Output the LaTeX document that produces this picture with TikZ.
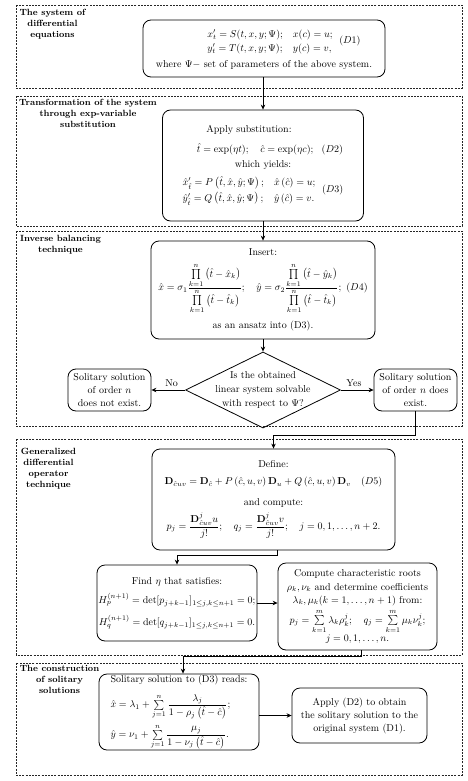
\documentclass[tikz,border=0pt]{standalone}
\usepackage{amsmath,amssymb}
\usetikzlibrary{shapes.geometric,arrows.meta}
\renewcommand{\arraystretch}{1.15}
\begin{document}
\begin{tikzpicture}[x=1pt,y=-1pt,
  sect/.style={draw=black!85, line width=0.5pt, dash pattern=on 2pt off 1.2pt},
  lbl/.style={font=\small\bfseries, align=center, anchor=north, inner sep=0pt},
  box/.style={draw, line width=0.8pt, rounded corners=8pt, align=center, inner sep=1pt},
  arr/.style={-{Stealth[length=5pt,width=4.5pt]}, line width=0.8pt},
  dia/.style={draw, diamond, line width=0.8pt, align=center, inner sep=-14pt, minimum width=155, minimum height=64}
]
\useasboundingbox (0,0) rectangle (468,781);
% sections
\draw[sect] (16,5) rectangle (462,88);
\draw[sect] (16,96) rectangle (462,226);
\draw[sect] (16,231) rectangle (462,426);
\draw[sect] (16,439) rectangle (462,655);
\draw[sect] (16,663) rectangle (462,775);
% section labels
\node[lbl] (l1) at (52.5,9) {The system of\\differential\\equations};
\node[lbl] (l2) at (88,99) {Transformation of the system\\through exp-variable\\substitution};
\node[lbl] (l3) at (60.5,235) {Inverse balancing\\technique};
\node[lbl] (l4) at (48.5,448) {Generalized\\differential\\operator\\technique};
\node[lbl] (l5) at (59.5,665) {The construction\\of solitary\\solutions};
% boxes
\node[box, minimum width=242, minimum height=57] (d1) at (264,48.5)
 {\hspace*{40pt}$\begin{array}{@{}l@{\quad}l@{}}x'_t=S(t,x,y;\Psi); & x(c)=u;\\ y'_t=T(t,x,y;\Psi); & y(c)=v,\end{array}\ \ (D1)$\\[4pt]
  where $\Psi -$ set of parameters of the above system.};
\node[box, minimum width=201, minimum height=111] (b2) at (263,165.5)
 {\hspace*{-28pt}Apply substitution:\\[8pt]
  \hspace*{14pt}$\hat t=\exp(\eta t);\quad \hat c=\exp(\eta c);\ \ (D2)$\\[3pt]
  which yields:\\[4pt]
  $\renewcommand{\arraystretch}{1.3}\begin{array}{@{}l@{\quad}l@{}}\hat x'_{\hat t}=P\left(\hat t,\hat x,\hat y;\Psi\right); & \hat x\left(\hat c\right)=u;\\ \hat y'_{\hat t}=Q\left(\hat t,\hat x,\hat y;\Psi\right); & \hat y\left(\hat c\right)=v.\end{array}\ \ (D3)$};
\node[box, minimum width=224, minimum height=98] (d4) at (263,290)
 {Insert:\\[7pt]
  $\hat x=\sigma_1\dfrac{\prod\limits_{k=1}^{n}\left(\hat t-\hat x_k\right)}{\prod\limits_{k=1}^{n}\left(\hat t-\hat t_k\right)};\quad \hat y=\sigma_2\dfrac{\prod\limits_{k=1}^{n}\left(\hat t-\hat y_k\right)}{\prod\limits_{k=1}^{n}\left(\hat t-\hat t_k\right)};\ (D4)$\\[7pt]
  as an ansatz into (D3).};
\node[dia] (q) at (263,390) {Is the obtained\\[2pt]linear system solvable\\[2pt]with respect to $\Psi$?};
\node[box, minimum width=83, minimum height=42] (no) at (109.5,390) {Solitary solution\\[1pt]of order $n$\\[1pt]does not exist.};
\node[box, minimum width=83, minimum height=42] (yes) at (415.5,390) {Solitary solution\\[1pt]of order $n$ does\\[1pt]exist.};
\node[box, minimum width=243, minimum height=101] (d5) at (273.5,499.5)
 {Define:\\[5pt]
  $\mathbf{D}_{\hat c uv}=\mathbf{D}_{\hat c}+P\left(\hat c,u,v\right)\mathbf{D}_u+Q\left(\hat c,u,v\right)\mathbf{D}_v\quad(D5)$\\[9pt]
  and compute:\\[4pt]
  $p_j=\dfrac{\mathbf{D}^j_{\hat c uv}u}{j!};\quad q_j=\dfrac{\mathbf{D}^j_{\hat c uv}v}{j!};\quad j=0,1,\ldots,n+2.$};
\node[box, minimum width=160, minimum height=76] (find) at (177,603)
 {Find $\eta$ that satisfies:\\[6pt]
  $H_p^{(n+1)}=\det[p_{j+k-1}]_{1\le j,k\le n+1}=0;$\\[8pt]
  $H_q^{(n+1)}=\det[q_{j+k-1}]_{1\le j,k\le n+1}=0.$};
\node[box, minimum width=159, minimum height=87] (comp) at (357.5,606.5)
 {Compute characteristic roots\\[2pt]
  $\rho_k,\nu_k$ and determine coefficients\\[1pt]
  $\lambda_k,\mu_k(k=1,\ldots,n+1)$ from:\\[3pt]
  $p_j=\sum\limits_{k=1}^{m}\lambda_k\rho_k^j;\quad q_j=\sum\limits_{k=1}^{m}\mu_k\nu_k^j;$\\[1pt]
  $j=0,1,\ldots,n.$};
\node[box, minimum width=160, minimum height=76, align=left] (sol) at (179,712)
 {Solitary solution to (D3) reads:\\[8pt]
  $\hat x=\lambda_1+\sum\limits_{j=1}^{n}\dfrac{\lambda_j}{1-\rho_j\left(\hat t-\hat c\right)};$\\[4pt]
  $\hat y=\nu_1+\sum\limits_{j=1}^{n}\dfrac{\mu_j}{1-\nu_j\left(\hat t-\hat c\right)}.$};
\node[box, minimum width=135, minimum height=55] (app) at (359.5,715.5)
 {Apply (D2) to obtain\\[1pt]the solitary solution to the\\[1pt]original system (D1).};
% connectors
\draw[arr] (b2.north |- d1.south) -- (b2.north);
\draw[arr] (b2.south) -- (d4.north);
\draw[arr] (d4.south) -- (q.north);
\draw[arr] (q.west) -- node[above, pos=0.4] (tno) {No} (no.east);
\draw[arr] (q.east) -- node[above, pos=0.4] (tyes) {Yes} (yes.west);
\draw[arr] (yes.south) -- ++(0,24) -| (d5.north);
\draw[arr] ([xshift=3.5pt]d5.south) -- ++(0,5) -| (find.north);
\draw[arr] (find.east) -- (find.east -| comp.west);
\draw[arr] ([xshift=3.5pt]comp.south) -- ++(0,6) -| ([xshift=4pt]sol.north);
\draw[arr] (sol.east |- app.west) -- (app.west);
\end{tikzpicture}
\end{document}
